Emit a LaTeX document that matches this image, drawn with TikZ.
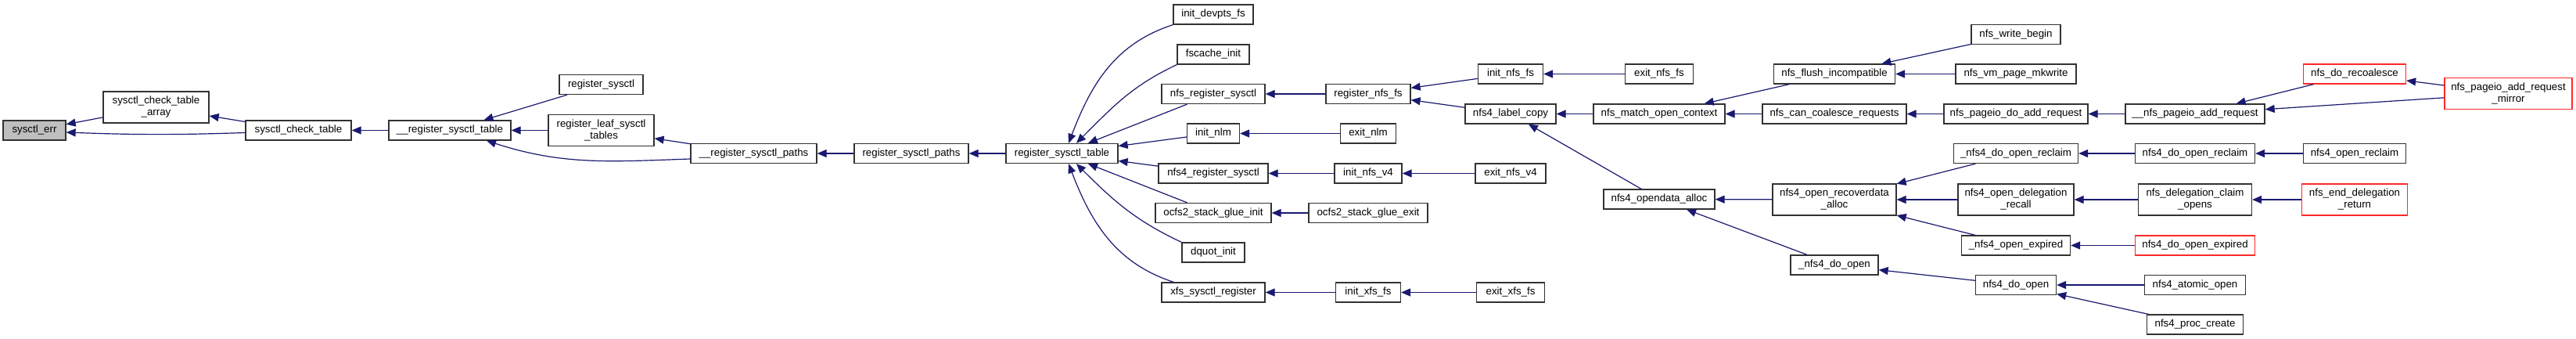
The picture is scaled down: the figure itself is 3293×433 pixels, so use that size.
\documentclass[tikz,border=0pt]{standalone}
\usepackage{fontspec}
\setmainfont{Liberation Sans}
\usetikzlibrary{arrows.meta}
\definecolor{edgeblue}{RGB}{25, 25, 112}
\definecolor{rootgray}{RGB}{191, 191, 191}
\definecolor{truncred}{RGB}{255, 40, 40}
\definecolor{boxline}{RGB}{50, 50, 50}

\begin{document}
\begin{tikzpicture}[x=1pt, y=1pt,
  fn/.style={draw=boxline, line width=1.3pt, fill=white, minimum height=25pt,
    inner sep=0pt, align=center, font=\fontsize{13.3}{15}\selectfont},
  fntwo/.style={fn, minimum height=40pt},
  rootfn/.style={fn, fill=rootgray},
  trunc/.style={fn, draw=truncred},
  trunctwo/.style={fntwo, draw=truncred},
  wd/.style={minimum width=#1pt},
  arr/.style={-{Triangle[length=12pt,width=10pt]}, edgeblue, line width=1.2pt}
]
\useasboundingbox[fill=white] (0,0) rectangle (3293,-433);

% sysctl_err and its direct callers
\node[rootfn, wd=80] (err) at (44,-166.5) {sysctl\_err};
\node[fntwo, wd=135] (chkarr) at (199.5,-137) {sysctl\_check\_table\\\_array};
\node[fn, wd=135] (chk) at (381.5,-166.5) {sysctl\_check\_table};
\node[fn, wd=156] (regtabi) at (575,-166.5) {\_\_register\_sysctl\_table};
\node[fn, wd=107] (regsysctl) at (768.5,-108) {register\_sysctl};
\node[fntwo, wd=135] (regleaf) at (768.5,-166.5) {register\_leaf\_sysctl\\\_tables};
\node[fn, wd=161] (regpathsi) at (963.5,-196) {\_\_register\_sysctl\_paths};
\node[fn, wd=146] (regpaths) at (1165,-196) {register\_sysctl\_paths};
\node[fn, wd=143] (regtab) at (1357.5,-196) {register\_sysctl\_table};

% callers of register_sysctl_table
\node[fn, wd=102] (devpts) at (1551,-18.5) {init\_devpts\_fs};
\node[fn, wd=92] (fscache) at (1551,-69.5) {fscache\_init};
\node[fn, wd=132] (nfsreg) at (1551,-120) {nfs\_register\_sysctl};
\node[fn, wd=67] (nlm) at (1551,-170.5) {init\_nlm};
\node[fn, wd=140] (nfs4reg) at (1551,-221.5) {nfs4\_register\_sysctl};
\node[fn, wd=148] (ocfsinit) at (1551,-272) {ocfs2\_stack\_glue\_init};
\node[fn, wd=80] (dquot) at (1551,-322.5) {dquot\_init};
\node[fn, wd=132] (xfsreg) at (1551,-373.5) {xfs\_sysctl\_register};

% next level
\node[fn, wd=108] (regnfs) at (1749,-120) {register\_nfs\_fs};
\node[fn, wd=71] (exitnlm) at (1749,-170.5) {exit\_nlm};
\node[fn, wd=86] (initv4) at (1749,-221.5) {init\_nfs\_v4};
\node[fn, wd=152] (ocfsexit) at (1749,-272) {ocfs2\_stack\_glue\_exit};
\node[fn, wd=83] (initxfs) at (1749,-373.5) {init\_xfs\_fs};
\node[fn, wd=83] (initnfs) at (1931,-94.5) {init\_nfs\_fs};
\node[fn, wd=116] (labelcopy) at (1931,-145.5) {nfs4\_label\_copy};
\node[fn, wd=90] (exitv4) at (1931,-221.5) {exit\_nfs\_v4};
\node[fn, wd=87] (exitxfs) at (1931,-373.5) {exit\_xfs\_fs};
\node[fn, wd=87] (exitnfs) at (2121,-94.5) {exit\_nfs\_fs};
\node[fn, wd=168] (matchctx) at (2121,-145.5) {nfs\_match\_open\_context};
\node[fn, wd=142] (opendata) at (2121,-254.5) {nfs4\_opendata\_alloc};

% nfs side
\node[fn, wd=155] (flush) at (2345,-94.5) {nfs\_flush\_incompatible};
\node[fn, wd=184] (coalesce) at (2345,-145.5) {nfs\_can\_coalesce\_requests};
\node[fntwo, wd=158] (recover) at (2345,-255) {nfs4\_open\_recoverdata\\\_alloc};
\node[fn, wd=112] (doopeni) at (2345,-338.5) {\_nfs4\_do\_open};
\node[fn, wd=114] (writebegin) at (2577,-44) {nfs\_write\_begin};
\node[fn, wd=154] (mkwrite) at (2577,-94.5) {nfs\_vm\_page\_mkwrite};
\node[fn, wd=184] (doadd) at (2577,-145.5) {nfs\_pageio\_do\_add\_request};
\node[fn, wd=159] (reclaimi) at (2577,-196) {\_nfs4\_do\_open\_reclaim};
\node[fntwo, wd=148] (delrecall) at (2577,-255) {nfs4\_open\_delegation\\\_recall};
\node[fn, wd=139] (expiredi) at (2577,-313.5) {\_nfs4\_open\_expired};
\node[fn, wd=103] (doopen) at (2577,-364) {nfs4\_do\_open};
\node[fn, wd=178] (addreqi) at (2806,-145.5) {\_\_nfs\_pageio\_add\_request};
\node[fn, wd=153] (doreclaim) at (2806,-196) {nfs4\_do\_open\_reclaim};
\node[fntwo, wd=145] (claim) at (2806,-255) {nfs\_delegation\_claim\\\_opens};
\node[trunc, wd=153] (doexpired) at (2806,-313.5) {nfs4\_do\_open\_expired};
\node[fn, wd=129] (atomic) at (2806,-364) {nfs4\_atomic\_open};
\node[fn, wd=123] (proccreate) at (2806,-414.5) {nfs4\_proc\_create};
\node[trunc, wd=131] (recoalesce) at (3010,-94.5) {nfs\_do\_recoalesce};
\node[fn, wd=131] (openreclaim) at (3010,-196) {nfs4\_open\_reclaim};
\node[trunctwo, wd=135] (endreturn) at (3010,-255) {nfs\_end\_delegation\\\_return};
\node[trunctwo, wd=163] (mirror) at (3206.5,-119.5) {nfs\_pageio\_add\_request\\\_mirror};

% Arrows - sysctl core
\draw[arr] (chkarr) -- (err);
\draw[arr] ([yshift=-3pt]chk.west) to[bend left=2] ([yshift=-2.5pt]err.east);
\draw[arr] (chk) -- (chkarr);
\draw[arr] (regtabi) -- (chk);
\draw[arr] (regsysctl) -- (regtabi);
\draw[arr] (regleaf) -- (regtabi);
\draw[arr] ([yshift=-7pt]regpathsi.west) to[out=182, in=-18] ([xshift=47pt]regtabi.south);
\draw[arr] (regpathsi) -- (regleaf);
\draw[arr] (regpaths) -- (regpathsi);
\draw[arr] (regtab) -- (regpaths);

% Arrows - fan into register_sysctl_table
\draw[arr] (devpts.south west) to[out=198, in=69] ([xshift=8.5pt]regtab.north);
\draw[arr] (fscache.south west) to[out=205, in=45] ([xshift=18.5pt]regtab.north);
\draw[arr] (nfsreg) -- (regtab);
\draw[arr] (nlm) -- (regtab);
\draw[arr] (nfs4reg) -- (regtab);
\draw[arr] (ocfsinit) -- (regtab);
\draw[arr] (dquot.north west) to[out=155, in=-45] ([xshift=18.5pt]regtab.south);
\draw[arr] ([xshift=16pt]xfsreg.north west) to[out=162, in=-69] ([xshift=8.5pt]regtab.south);

% Arrows - further callers
\draw[arr] (regnfs) -- (nfsreg);
\draw[arr] (exitnlm) -- (nlm);
\draw[arr] (initv4) -- (nfs4reg);
\draw[arr] (ocfsexit) -- (ocfsinit);
\draw[arr] (initxfs) -- (xfsreg);
\draw[arr] (initnfs) -- (regnfs);
\draw[arr] (labelcopy) -- (regnfs);
\draw[arr] (exitv4) -- (initv4);
\draw[arr] (exitxfs) -- (initxfs);
\draw[arr] (exitnfs) -- (initnfs);
\draw[arr] (matchctx) -- (labelcopy);
\draw[arr] (opendata) -- (labelcopy);
\draw[arr] (flush) -- (matchctx);
\draw[arr] (coalesce) -- (matchctx);
\draw[arr] (recover) -- (opendata);
\draw[arr] (doopeni) -- (opendata);
\draw[arr] (writebegin) -- (flush);
\draw[arr] (mkwrite) -- (flush);
\draw[arr] (doadd) -- (coalesce);
\draw[arr] (reclaimi) -- (recover);
\draw[arr] (delrecall) -- (recover);
\draw[arr] (expiredi) -- (recover);
\draw[arr] (doopen) -- (doopeni);
\draw[arr] (addreqi) -- (doadd);
\draw[arr] (doreclaim) -- (reclaimi);
\draw[arr] (claim) -- (delrecall);
\draw[arr] (doexpired) -- (expiredi);
\draw[arr] (atomic) -- (doopen);
\draw[arr] (proccreate) -- (doopen);
\draw[arr] (recoalesce) -- (addreqi);
\draw[arr] (mirror) -- (addreqi);
\draw[arr] (mirror) -- (recoalesce);
\draw[arr] (openreclaim) -- (doreclaim);
\draw[arr] (endreturn) -- (claim);

\end{tikzpicture}
\end{document}
